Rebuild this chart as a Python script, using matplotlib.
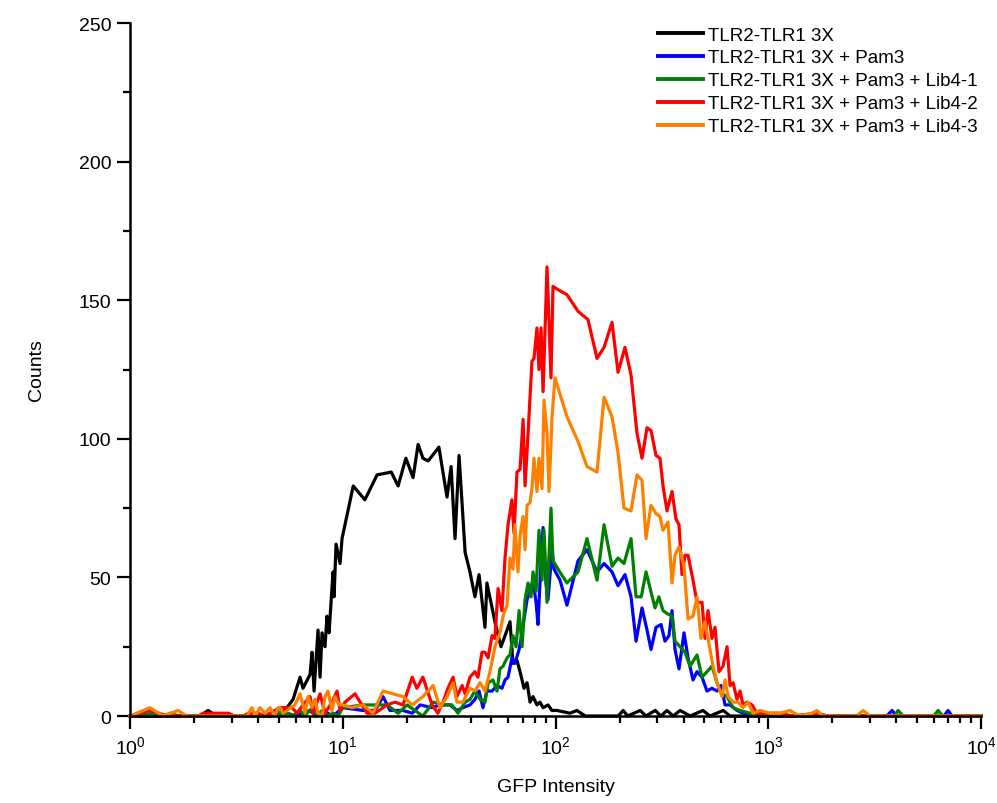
import matplotlib
matplotlib.use("Agg")
import matplotlib.pyplot as plt
from matplotlib.ticker import LogLocator, MultipleLocator

plt.rcParams['font.family'] = ['Liberation Sans', 'DejaVu Sans']
plt.rcParams['mathtext.fontset'] = 'custom'
plt.rcParams['mathtext.rm'] = 'Liberation Sans'
plt.rcParams['mathtext.it'] = 'Liberation Sans:italic'
plt.rcParams['mathtext.default'] = 'regular'

# (GFP intensity, counts)
black = [(1.0,0),(2.13,0),(2.33,2),(2.54,0),(4.55,0),(5.35,2),(5.84,6),(6.30,14),(6.50,10),(7.02,15),(7.17,23),(7.33,9),(7.65,31),(7.82,14),(7.99,30),(8.25,25),(8.43,36),(8.62,30),(9.00,52),(9.10,43),(9.30,62),(9.71,55),(9.92,64),(11.2,83),(12.7,78),(14.5,87),(16.9,88),(18.2,83),(19.8,93),(21.4,86),(22.6,98),(23.8,93),(25.2,92),(28.3,97),(30.9,79),(32.3,90),(33.7,64),(35.2,94),(37.6,59),(39.6,52),(41.8,43),(43.7,51),(46.6,32),(47.6,48),(51.9,34),(55.4,25),(57.9,29),(61.1,34),(63.1,19),(65.9,20),(68.1,16),(71.1,10),(73.5,12),(75.9,5),(78.4,7),(81.8,4),(84.5,5),(87.4,3),(92.2,4),(96.2,2),(101.6,2),(117,1),(126,2),(138,0),(197,0),(208,2),(218,0),(250,2),(266,0),(294,2),(313,0),(334,2),(357,0),(385,2),(429,0),(493,2),(532,0),(614,2),(661,0),(10000,0)]

blue = [(1.0,0),(5.0,0),(5.5,1),(6.0,0),(7.0,2),(7.5,0),(8.5,1),(9.0,0),(10.0,3),(12.45,2),(14.18,2),(15.46,7),(16.67,2),(19.2,2),(21.2,1),(23.1,4),(26.3,3),(28.6,4),(31.9,4),(34.4,2),(36.7,3),(39.6,4),(41.8,6),(43.7,9),(45.6,3),(47.6,9),(50.3,9),(53.1,11),(56.0,10),(57.9,13),(59.8,14),(62.4,21),(64.5,19),(67.4,24),(69.6,30),(71.1,35),(73.5,42),(75.9,45),(78.4,49),(81.0,41),(82.7,33),(85.5,56),(87.4,68),(90.2,48),(92.2,42),(96.3,60),(98.4,53),(101.6,51),(105,49),(113.2,40),(127.6,56),(140.6,60),(156.7,52),(169.1,55),(184.3,52),(196.7,47),(212.1,51),(226.4,43),(239,27),(255,39),(269.2,31),(281.1,24),(296.7,32),(313.2,33),(327,27),(341.5,29),(352.8,38),(364.4,24),(380.5,17),(401.7,30),(419.5,21),(442.8,13),(462.4,16),(488.1,14),(515.2,9),(543.8,10),(574.1,9),(599.6,11),(626.2,4),(661.1,4),(712.9,2),(760.7,1),(847.7,0),(3600,0),(3818,2),(4000,0),(6700,0),(6998,2),(7300,0),(10000,0)]

green = [(1.0,0),(1.3,1),(1.45,0),(1.54,1),(1.7,0),(4.5,0),(4.91,2),(5.2,0),(5.5,1),(5.8,0),(6.3,2),(6.6,0),(7.2,3),(7.5,0),(8.0,2),(8.5,0),(9.0,1),(9.5,0),(10.0,3),(12.45,4),(16.14,4),(18.2,1),(20.05,4),(23.8,0),(26.6,5),(29.6,4),(32.6,4),(34.8,1),(37.6,5),(39.6,6),(41.8,9),(44.2,6),(46.6,5),(48.2,12),(50.8,13),(53.1,9),(54.8,17),(56.7,18),(59.2,21),(61.1,22),(63.1,29),(65.2,25),(67.4,38),(69.6,25),(71.9,42),(74.3,48),(76.7,43),(78.4,52),(81.0,45),(83.6,67),(86.4,49),(88.3,67),(91.2,41),(95.2,75),(97.3,56),(102.7,53),(113.2,48),(127.6,52),(140.6,64),(156.7,49),(169.1,69),(184.3,54),(196.7,57),(209.8,55),(226.4,64),(239,43),(253,43),(266.3,52),(293.5,39),(306,43),(320,38),(334.2,37),(352.8,36),(364.4,27),(384.7,25),(406.1,23),(428.6,18),(462.4,22),(488.1,14),(515.2,16),(543.8,18),(574.1,12),(606.1,8),(639.9,7),(682.9,3),(736.4,2),(820.6,1),(900,0),(1600,0),(1694,1),(1800,0),(3900,0),(4074,2),(4300,0),(6000,0),(6280,2),(6600,0),(10000,0)]

red = [(1.0,0),(1.24,2),(1.5,0),(2.1,0),(2.2,1),(2.9,1),(3.1,0),(3.4,0),(3.6,1),(4.0,1),(4.3,0),(4.8,2),(5.07,3),(5.77,3),(6.10,1),(6.50,4),(7.02,7),(7.25,1),(7.82,8),(8.25,1),(8.90,5),(9.40,9),(9.71,2),(10.25,5),(11.42,8),(13.0,1),(14.18,1),(16.14,4),(17.6,5),(19.2,4),(21.2,14),(22.3,10),(23.8,14),(26.3,4),(28.0,1),(29.6,5),(31.2,10),(33.0,14),(34.4,7),(36.4,11),(37.6,8),(39.6,14),(41.8,16),(43.2,14),(45.1,23),(46.6,23),(48.2,21),(50.3,29),(51.9,28),(53.7,46),(56.0,38),(57.9,57),(59.8,69),(62.4,78),(63.8,66),(65.9,88),(68.1,89),(70.4,107),(71.9,83),(74.3,102),(77.5,128),(79.2,129),(81.8,140),(83.6,125),(85.5,140),(87.4,117),(91.2,162),(95.2,122),(97.3,155),(101.6,154),(113.2,152),(127.6,146),(142.1,143),(156.7,129),(169.1,133),(184.3,142),(196.7,124),(212.1,133),(226.4,123),(241.5,102),(255,93),(269.2,104),(281.1,103),(296.7,94),(309.8,93),(320,83),(334.2,74),(352.8,81),(368.4,71),(380.5,69),(393.1,51),(406.1,58),(419.5,58),(442.8,49),(462.4,41),(488.1,41),(504.2,28),(520.8,38),(543.8,28),(561.8,32),(586.7,16),(612.8,18),(639.9,25),(661.1,11),(682.9,12),(712.9,6),(736.4,9),(760.7,4),(794.3,5),(838.5,4),(885.2,1),(944.6,1),(1052,1),(1135,1),(1300,0),(1694,1),(1900,0),(10000,0)]

orange = [(1.0,0),(1.24,3),(1.43,0),(1.68,2),(1.85,0),(3.55,0),(3.74,3),(3.87,0),(4.08,3),(4.31,1),(4.55,3),(4.80,0),(4.96,3),(5.07,3),(5.24,1),(5.96,4),(6.30,8),(6.65,1),(6.87,7),(7.17,3),(7.41,6),(7.65,1),(7.99,0),(8.25,7),(8.52,9),(8.90,2),(9.19,7),(9.60,4),(10.0,4),(11.05,3),(12.45,4),(13.87,1),(15.46,9),(17.23,8),(19.2,7),(21.2,4),(23.8,7),(26.6,11),(28.6,3),(30.9,7),(33.0,12),(34.4,5),(36.7,5),(39.6,10),(41.8,9),(44.2,12),(46.6,9),(49.2,16),(51.9,25),(54.8,30),(56.7,36),(59.2,40),(61.1,57),(63.1,53),(64.5,69),(66.6,52),(68.1,65),(70.4,72),(71.9,60),(73.5,76),(75.9,77),(77.5,82),(79.2,93),(81.8,81),(83.6,93),(86.4,82),(88.3,114),(91.2,102),(93.2,81),(96.3,108),(99.4,122),(113.2,108),(127.6,99),(140.6,90),(156.7,88),(169.1,115),(184.3,108),(196.7,95),(209.8,75),(226.4,74),(241.5,87),(255,85),(266.3,64),(281.1,76),(296.7,73),(309.8,72),(320,67),(337.9,70),(352.8,48),(364.4,58),(380.5,61),(401.7,54),(419.5,35),(442.8,36),(462.4,43),(482.8,28),(504.2,34),(532.2,24),(549.8,18),(574.1,12),(606.1,7),(626.2,13),(646.9,7),(682.9,5),(720.7,5),(760.7,3),(803,5),(847.7,1),(914.5,2),(1019,1),(1135,1),(1265,2),(1400,0),(1600,1),(1694,2),(1800,0),(2600,0),(2788,2),(3000,0),(10000,0)]

series_labels = ["TLR2-TLR1 3X",
                 "TLR2-TLR1 3X + Pam3",
                 "TLR2-TLR1 3X + Pam3 + Lib4-1",
                 "TLR2-TLR1 3X + Pam3 + Lib4-2",
                 "TLR2-TLR1 3X + Pam3 + Lib4-3"]
series_colors = ["#000000", "#0000FF", "#008000", "#FF0000", "#FF8000"]
series_data = [black, blue, green, red, orange]

y_ticks = [0, 50, 100, 150, 200, 250]

fig = plt.figure(figsize=(9.97, 8.04), dpi=100)
ax = fig.add_axes([0.1304, 0.1082, 0.8536, 0.8619])

for data, lab, col in zip(series_data, series_labels, series_colors):
    xs = [p[0] for p in data]
    ys = [p[1] for p in data]
    ax.plot(xs, ys, color=col, lw=2.3, label=lab, clip_on=False)

ax.set_xscale('log')
ax.set_xlim(1, 1e4)
ax.set_ylim(0, 250)
ax.set_yticks(y_ticks)
ax.yaxis.set_minor_locator(MultipleLocator(25))
ax.xaxis.set_major_locator(LogLocator(base=10, numticks=10))
ax.xaxis.set_minor_locator(LogLocator(base=10, subs=range(2, 10), numticks=20))

for s in ['top', 'right']:
    ax.spines[s].set_visible(False)
for s in ['left', 'bottom']:
    ax.spines[s].set_linewidth(1.8)

ax.tick_params(which='major', direction='out', length=9.5, width=1.6, labelsize=14, pad=4)
ax.tick_params(which='minor', direction='out', length=5, width=1.6)

ax.set_xlabel("GFP Intensity", fontsize=14)
ax.set_ylabel("Counts", fontsize=14)
ax.xaxis.set_label_coords(0.5, -0.089)
ax.yaxis.set_label_coords(-0.10, 0.5)

leg = ax.legend(loc='upper right', bbox_to_anchor=(1.005, 1.006), frameon=False,
                fontsize=13.5, handlelength=2.4, handletextpad=0.25, labelspacing=0.31,
                borderaxespad=0.0)
for l in leg.get_lines():
    l.set_linewidth(2.8)

fig.savefig("out.png", dpi=100)
